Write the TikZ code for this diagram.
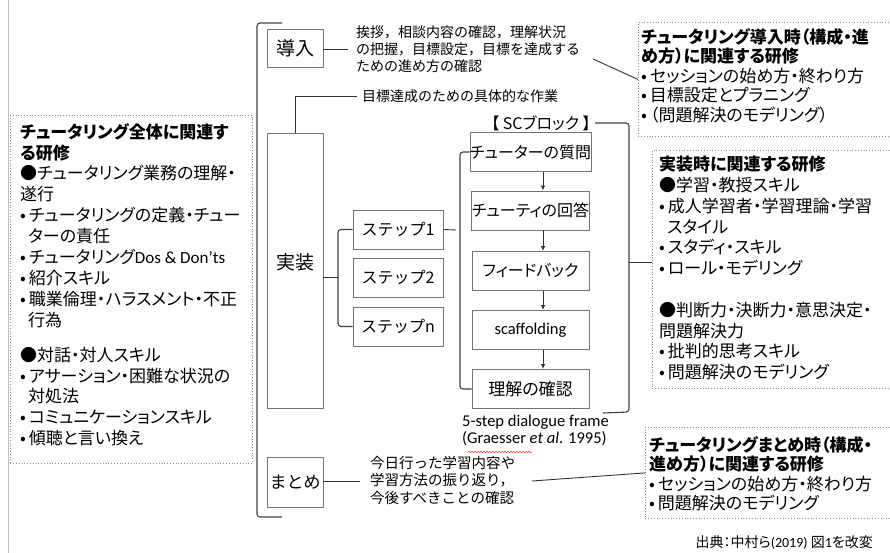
\documentclass[tikz,border=0pt]{standalone}
\usepackage{fontspec}
\setmainfont[RawFeature=+palt]{Noto Sans CJK JP}
\newfontfamily\jpn{Noto Sans CJK JP}
\newfontfamily\lat{Carlito}
\usetikzlibrary{arrows.meta,decorations.pathmorphing}
\newcommand\fsz[2]{\fontsize{#1}{#2}\selectfont}
\newcommand\bu{•\hspace{3pt}}
\begin{document}
\begin{tikzpicture}[x=1pt,y=-1pt,
  solidbox/.style={draw=black!55, line width=0.9pt, inner sep=0pt, fill=white},
  dotbox/.style={draw=black!45, dotted, line width=0.8pt, inner sep=0pt},
  conn/.style={draw=black!80, line width=0.9pt},
  brk/.style={draw=black!75, line width=1.1pt, rounded corners=3pt},
  txt/.style={inner sep=0pt, align=left, anchor=north west},
  arr/.style={conn, -{Latex[length=5pt,width=4.5pt]}},
  scbox/.style={solidbox, minimum width=117pt, minimum height=39pt, font=\fsz{16}{16}},
  stepbox/.style={solidbox, minimum width=90pt, minimum height=39pt, font=\jpn\fsz{16}{16}}
]
\useasboundingbox (0,0) rectangle (890,553);
% left margin line
\draw[black!25, line width=0.8pt] (8,0) -- (8,553);

% left dotted box
\node[dotbox, anchor=north west, minimum width=242pt, minimum height=348pt] (lbox) at (10,115) {};
\node[txt, font=\fsz{17}{20.9}] (ltext) at (20,123) {%
\textbf{チュータリング全体に関連す}\\
\textbf{る研修}\\
●チュータリング業務の理解・\\
遂行\\
\bu チュータリングの定義・チュー\\
\hspace*{8pt}ターの責任\\
\bu チュータリング{\lat Dos \& Don’ts}\\
\bu 紹介スキル\\
\bu 職業倫理・ハラスメント・不正\\
\hspace*{8pt}行為\\[14pt]
●対話・対人スキル\\
\bu アサーション・困難な状況の\\
\hspace*{8pt}対処法\\
\bu コミュニケーションスキル\\
\bu 傾聴と言い換え};

% big bracket
\coordinate (bt) at (282,23);
\coordinate (bb) at (282,517);
\draw[brk] (bt) -- (257,23) -- (257,517) -- (bb);

% intro
\node[solidbox, minimum width=56pt, minimum height=38pt, font=\jpn\fsz{19}{19}] (intro) at (295,48) {導入};
\node[txt, font=\jpn\fsz{14}{17}] (introtext) at (356,26) {%
挨拶，相談内容の確認，理解状況\\
の把握，目標設定，目標を達成する\\
ための進め方の確認};
\coordinate (it1) at (348,49);
\draw[conn] (intro.east |- it1) -- (it1);

% top right box
\node[dotbox, anchor=north west, minimum width=260pt, minimum height=114pt] (rb1) at (638,22) {};
\node[txt, font=\fsz{17}{19.5}] (rb1text) at (641,28) {%
\textbf{チュータリング導入時（構成・進}\\
\textbf{め方）に関連する研修}\\
\bu セッションの始め方・終わり方\\
\bu 目標設定とプラニング\\
\bu （問題解決のモデリング）};
\coordinate (it2) at (593,59);
\draw[conn] (it2) -- (rb1.west);

% implementation
\node[solidbox, minimum width=56pt, minimum height=275pt] (impl) at (295,270.5) {};
\node[font=\jpn\fsz{19}{19}, inner sep=0pt] (impltext) at (295,262) {実装};
\node[txt, font=\jpn\fsz{14}{14}, anchor=west] (worktext) at (362,96) {目標達成のための具体的な作業};
\coordinate (w1) at (357,96);
\draw[conn] (w1) -- (impl.north |- w1) -- (impl.north);

% steps
\node[stepbox] (s1) at (398,229.5) {ステップ1};
\node[stepbox] (s2) at (398,277.5) {ステップ2};
\node[stepbox] (sn) at (398,326.5) {ステップn};
\coordinate (br1) at (338,277);
\draw[brk] (s1.west) -- (br1 |- s1.west) -- (br1 |- sn.west) -- (sn.west);
\draw[conn] (impl.east |- br1) -- (br1);

% SC block
\node[scbox] (q1) at (530.5,152) {チューターの質問};
\node[scbox] (q2) at (530.5,210.5) {チューティの回答};
\node[scbox] (q3) at (530.5,271) {フィードバック};
\node[scbox, font=\lat\fsz{16.5}{16.5}] (q4) at (530.5,330) {scaffolding};
\node[scbox, font=\fsz{17}{17}] (q5) at (530.5,389) {理解の確認};
\foreach \a/\b in {q1/q2,q2/q3,q3/q4,q4/q5}
  \draw[arr] ([xshift=12.5pt]\a.south) -- ([xshift=12.5pt]\b.north);
\coordinate (br2) at (460,230);
\draw[brk] (q1.west) -- (br2 |- q1.west) -- (br2 |- q5.west) -- (q5.west);
\draw[conn] (s1.east) -- ([xshift=-4pt]br2);

\node[font=\fsz{16}{16}, inner sep=0pt] (sclabel) at (541,123) {【 SCブロック 】};
\coordinate (sc1) at (595,123);
\coordinate (sc2) at (603,413);
\coordinate (sc3) at (629,262);
\draw[brk] (sc1) -- (629,123) -- (629,412) -- (sc2);

% middle right box
\node[dotbox, anchor=north west, minimum width=246pt, minimum height=238pt] (rb2) at (652,150) {};
\node[txt, font=\fsz{17}{20.8}] (rb2text) at (659,156) {%
\textbf{実装時に関連する研修}\\
●学習・教授スキル\\
\bu 成人学習者・学習理論・学習\\
\hspace*{8pt}スタイル\\
\bu スタディ・スキル\\
\bu ロール・モデリング\\[20.8pt]
●判断力・決断力・意思決定・\\
問題解決力\\
\bu 批判的思考スキル\\
\bu 問題解決のモデリング};
\draw[conn] (sc3) -- (rb2.west |- sc3);

% 5-step label
\node[txt, font=\lat\fsz{16.5}{17}] (frame) at (462,415) {%
5-step dialogue frame\\
(Graesser \textit{et al}. 1995)};
\draw[red!80, line width=0.5pt, decorate, decoration={snake, amplitude=0.7pt, segment length=3pt}] (468,452) -- (532,452);

% matome
\node[solidbox, minimum width=56pt, minimum height=50pt, font=\jpn\fsz{17}{17}] (matome) at (295,482) {まとめ};
\node[txt, font=\jpn\fsz{14.5}{17.5}] (matometext) at (370,456) {%
今日行った学習内容や\\
学習方法の振り返り，\\
今後すべきことの確認};
\coordinate (m1) at (360,481);
\draw[conn] (matome.east |- m1) -- (m1);

% bottom right box
\node[dotbox, anchor=north west, minimum width=253pt, minimum height=91pt] (rb3) at (645,427) {};
\node[txt, font=\fsz{17}{19.5}] (rb3text) at (649,436) {%
\textbf{チュータリングまとめ時（構成・}\\
\textbf{進め方）に関連する研修}\\
\bu セッションの始め方・終わり方\\
\bu 問題解決のモデリング};
\coordinate (m2) at (532,481);
\draw[conn] (m2) -- (rb3.west);

% source
\node[font=\fsz{14}{14}, inner sep=0pt, anchor=east] (src) at (873,543) {出典：中村ら{\lat (2019)} 図{\lat 1}を改変};
\end{tikzpicture}
\end{document}
